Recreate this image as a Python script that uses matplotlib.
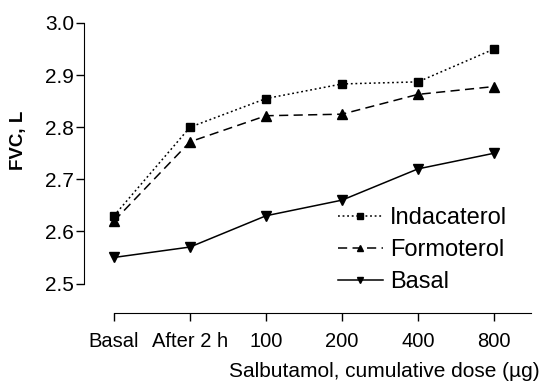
import matplotlib.pyplot as plt

plt.rcParams['font.family'] = ['Liberation Sans', 'DejaVu Sans']

# donnees
doses = ["Basal", "After 2 h", "100", "200", "400", "800"]
indacaterol = [2.63, 2.80, 2.855, 2.883, 2.887, 2.95]
formoterol = [2.62, 2.772, 2.822, 2.825, 2.863, 2.878]
basal = [2.55, 2.57, 2.63, 2.66, 2.72, 2.75]

x = list(range(len(doses)))

W, H = 541, 382
fig = plt.figure(figsize=(W/100, H/100), dpi=100)
# axes placees en pixels (style Prism, axes detachees)
ax = fig.add_axes([83.6/W, 1-313/H, (535.8-83.6)/W, (313-12.6)/H])

ax.plot(x, indacaterol, color="black", linestyle=(0, (1.2, 1.8)), lw=1.1,
        marker="s", markersize=6, label="Indacaterol")
ax.plot(x, formoterol, color="black", linestyle=(0, (6, 3.5)), lw=1.1,
        marker="^", markersize=7, label="Formoterol")
ax.plot(x, basal, color="black", linestyle="-", lw=1.1,
        marker="v", markersize=7, label="Basal")

ax.set_xlim(-0.4, 5.55)
ax.set_ylim(2.5 - 29.5/521, 3.0 + 10.4/521)
ax.set_yticks([2.5, 2.6, 2.7, 2.8, 2.9, 3.0])
ax.set_yticklabels(["2.5", "2.6", "2.7", "2.8", "2.9", "3.0"])
ax.set_xticks(x)
ax.set_xticklabels(doses)

ax.spines["top"].set_visible(False)
ax.spines["right"].set_visible(False)
ax.spines["left"].set_bounds(2.5, 3.0)
ax.spines["bottom"].set_bounds(0, 5.49)
ax.tick_params(axis="y", labelsize=15, length=6, width=1, pad=1)
ax.tick_params(axis="x", labelsize=14.5, length=6, width=1, pad=8)

fig.text(19/W, 1-140/H, "FVC, L", rotation=90, fontsize=13.5, fontweight="bold",
         ha="center", va="center")
fig.text(540/W, 1-377/H, "Salbutamol, cumulative dose (µg)", fontsize=15,
         ha="right", va="baseline")

ax.legend(loc="center left", bbox_to_anchor=(338/W, 1-250/H),
          bbox_transform=fig.transFigure, frameon=False, fontsize=17,
          borderpad=0, borderaxespad=0,
          handlelength=1.9, handletextpad=0.3, labelspacing=0.42, markerscale=0.7)

fig.savefig("out.png", dpi=100)
